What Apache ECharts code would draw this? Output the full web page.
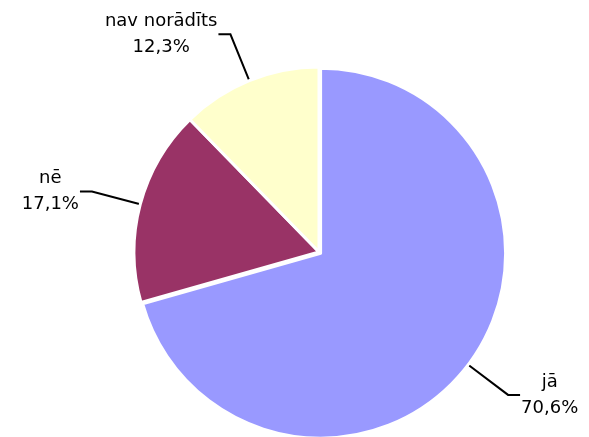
<!DOCTYPE html>
<html>
<head>
<meta charset="utf-8">
<script src="https://cdn.jsdelivr.net/npm/echarts@6/dist/echarts.min.js"></script>
<style>
html,body{margin:0;padding:0;background:#fff;}
#chart{width:589px;height:437px;}
</style>
</head>
<body>
<div id="chart"></div>
<script>
var categories = ['jā', 'nē', 'nav norādīts'];
var values = [70.6, 17.1, 12.3];
var colors = ['#9999FF', '#993366', '#FFFFCC'];

var chart = echarts.init(document.getElementById('chart'), null, {renderer: 'canvas'});
var data = categories.map(function (c, i) {
  return {
    name: c,
    value: values[i],
    selected: i === 0,
    itemStyle: {color: colors[i]}
  };
});
chart.setOption({
  animation: false,
  backgroundColor: '#ffffff',
  series: [{
    type: 'pie',
    center: [319, 252],
    radius: 185,
    startAngle: 90,
    clockwise: true,
    selectedMode: 'single',
    selectedOffset: 2,
    avoidLabelOverlap: false,
    itemStyle: {borderColor: '#ffffff', borderWidth: 3},
    label: {
      show: true,
      position: 'outside',
      fontSize: 18,
      fontFamily: 'DejaVu Sans',
      color: '#000',
      lineHeight: 26,
      formatter: function (p) {
        return '{c|' + p.name + '}\n{c|' + p.value.toFixed(1).replace('.', ',') + '%}';
      },
      rich: {
        c: {align: 'center', fontSize: 18, fontFamily: 'DejaVu Sans', color: '#000', lineHeight: 26}
      },
      distanceToLabelLine: 1
    },
    labelLine: {
      show: true,
      length: 50,
      length2: 12,
      smooth: false,
      lineStyle: {color: '#000', width: 2}
    },
    emphasis: {disabled: true},
    data: data
  }]
});
</script>
</body>
</html>
